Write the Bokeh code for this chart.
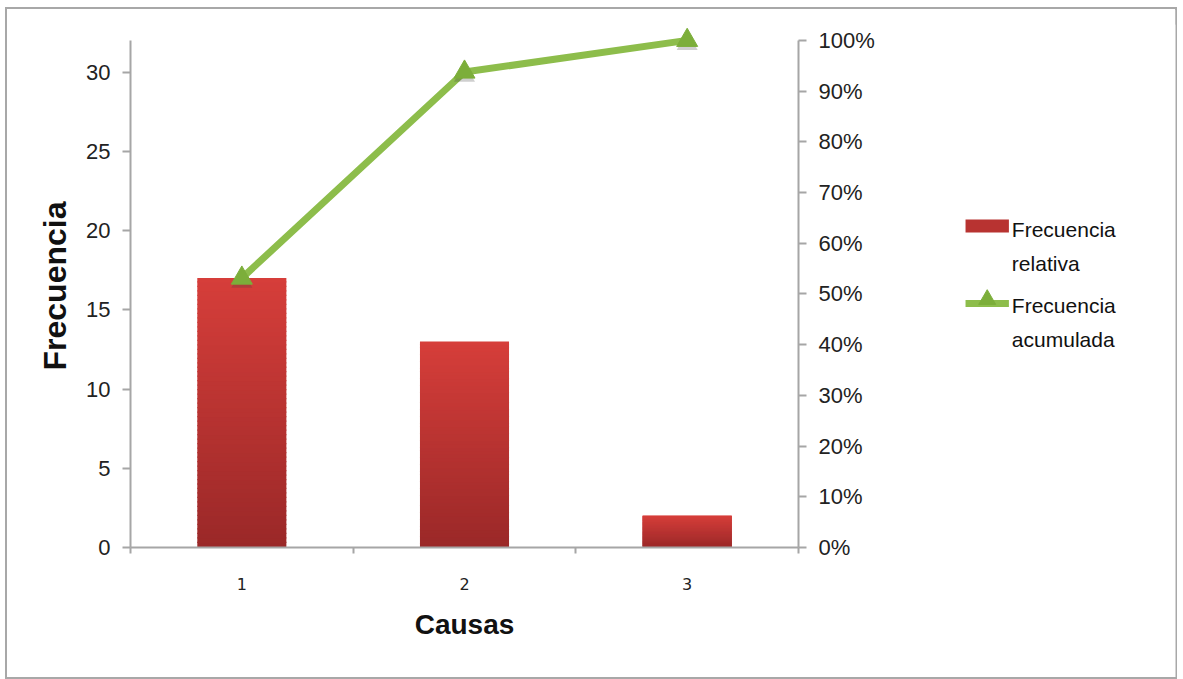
from bokeh.plotting import figure
from bokeh.layouts import row
from bokeh.core.properties import value
from bokeh.models import (Range1d, LinearAxis, FixedTicker, NumeralTickFormatter,
                          ColumnDataSource)
from bokeh.embed import file_html
from bokeh.resources import INLINE

# Data
causas = [1, 2, 3]
frecuencia = [17, 13, 2]
cat_labels = ["1", "2", "3"]
series_names = ["Frecuencia relativa", "Frecuencia acumulada"]

total = sum(frecuencia)
acumulada = []
run = 0
for f in frecuencia:
    run += f
    acumulada.append(run / total)

FONT = "Liberation Sans"
AXIS_COLOR = "#a6a6a6"
BAR_TOP = (214, 62, 58)
BAR_BOT = (154, 40, 40)
LINE_COLOR = "#8dbd4b"
MARK_COLOR = "#7cae3a"
Y_MAX = 32
Y_TOP = 33  # a little headroom so the last marker is not clipped

H = 668
W_MAIN = 891
W_LEG = 281

p = figure(width=W_MAIN, height=H, output_backend="svg", toolbar_location=None,
           x_range=Range1d(0.5, 3.5), y_range=Range1d(0, Y_TOP),
           min_border_left=123, min_border_right=W_MAIN - 791, min_border_top=15,
           min_border_bottom=130)
p.extra_y_ranges = {"pct": Range1d(0, Y_TOP / Y_MAX)}
p.grid.visible = False
p.outline_line_color = None
p.background_fill_color = "white"
p.border_fill_color = "white"


def shade(t):
    rgb = tuple(int(round(b + (a - b) * t)) for a, b in zip(BAR_TOP, BAR_BOT))
    return "#%02x%02x%02x" % rgb


# Bars with a vertical shading, drawn as thin stacked slices of each bar
N = 60
xs, bots, tops, cols = [], [], [], []
for c, v in zip(causas, frecuencia):
    for k in range(N):
        xs.append(c)
        bots.append(v * k / N)
        tops.append(min(v, v * (k + 1) / N + 0.08))
        cols.append(shade((k + 0.5) / N))
src = ColumnDataSource(dict(x=xs, bottom=bots, top=tops, color=cols))
p.vbar(x="x", bottom="bottom", top="top", width=0.4, source=src,
       fill_color="color", line_color=None)

# Cumulative line, with a soft shadow under each marker
p.line(causas, acumulada, y_range_name="pct", line_color=LINE_COLOR,
       line_width=7, line_join="round")
p.scatter(causas, [a - 0.007 for a in acumulada], y_range_name="pct",
          marker="triangle", size=21, fill_color="#404040", fill_alpha=0.25,
          line_color=None)
p.scatter(causas, acumulada, y_range_name="pct", marker="triangle",
          size=21, fill_color=MARK_COLOR, line_color=MARK_COLOR)

# Axes
xa = p.xaxis[0]
xa.ticker = FixedTicker(ticks=causas, minor_ticks=[0.5, 1.5, 2.5, 3.5])
xa.major_label_overrides = {c: l for c, l in zip(causas, cat_labels)}
xa.major_tick_line_color = None
xa.major_tick_out = 0
xa.major_tick_in = 0
xa.minor_tick_out = 6
xa.minor_tick_in = 0
xa.minor_tick_line_color = AXIS_COLOR
xa.minor_tick_line_width = 2
xa.axis_line_color = AXIS_COLOR
xa.axis_line_width = 2
xa.major_label_text_font = "DejaVu Sans"
xa.major_label_text_font_size = "16px"
xa.major_label_text_color = "#222222"
xa.major_label_standoff = 24
xa.axis_label = "Causas"
xa.axis_label_text_font = FONT
xa.axis_label_text_font_style = "bold"
xa.axis_label_text_font_size = "28px"
xa.axis_label_text_color = "#111111"
xa.axis_label_standoff = 16

ya = p.yaxis[0]
ya.bounds = (0, Y_MAX)
ya.ticker = FixedTicker(ticks=[0, 5, 10, 15, 20, 25, 30])
ya.minor_tick_line_color = None
ya.major_tick_out = 8
ya.major_tick_in = 0
ya.major_tick_line_color = AXIS_COLOR
ya.major_tick_line_width = 2
ya.axis_line_color = AXIS_COLOR
ya.axis_line_width = 2
ya.major_label_text_font = FONT
ya.major_label_text_font_size = "22px"
ya.major_label_text_color = "#222222"
ya.major_label_standoff = 12
ya.axis_label = "Frecuencia"
ya.axis_label_text_font = FONT
ya.axis_label_text_font_style = "bold"
ya.axis_label_text_font_size = "32px"
ya.axis_label_text_color = "#111111"
ya.axis_label_standoff = 10

ra = LinearAxis(y_range_name="pct", bounds=(0, 1),
                ticker=FixedTicker(ticks=[i / 10 for i in range(11)]),
                formatter=NumeralTickFormatter(format="0%"))
ra.minor_tick_line_color = None
ra.major_tick_out = 8
ra.major_tick_in = 0
ra.major_tick_line_color = AXIS_COLOR
ra.major_tick_line_width = 2
ra.axis_line_color = AXIS_COLOR
ra.axis_line_width = 2
ra.major_label_text_font = FONT
ra.major_label_text_font_size = "22px"
ra.major_label_text_color = "#222222"
ra.major_label_standoff = 12
p.add_layout(ra, "right")

# Legend panel: a pixel-scaled plot beside the chart (y measured upward)
q = figure(frame_width=W_LEG, frame_height=H, output_backend="svg",
           toolbar_location=None, title=None,
           x_range=Range1d(0, W_LEG), y_range=Range1d(0, H),
           x_axis_type=None, y_axis_type=None,
           min_border_left=0, min_border_right=0, min_border_top=0,
           min_border_bottom=0)
q.grid.visible = False
q.outline_line_color = None
q.background_fill_color = "white"
q.border_fill_color = "white"

sw_left, sw_right = 68, 112
# swatch for the bars
q.quad(left=[sw_left], right=[sw_right], bottom=[460], top=[473],
       fill_color=shade(0.5), line_color=None)
# swatch for the cumulative line
q.line([sw_left, sw_right], [389, 389], line_color=LINE_COLOR, line_width=7)
q.scatter([(sw_left + sw_right) / 2], [393], marker="triangle", size=17,
          fill_color=MARK_COLOR, line_color=MARK_COLOR)

leg_lines = []
for name in series_names:
    first, second = name.split(" ")
    leg_lines += [first, second]
q.text(x=[115] * 4, y=[463, 429, 387, 353], text=leg_lines,
       text_font=value(FONT), text_font_size="21px", text_color="#111111",
       text_baseline="alphabetic", text_align="left")

layout = row(p, q)
layout.styles = {"border": "2px solid #a8a8a8", "margin-left": "5px",
                 "margin-top": "7px", "width": "%dpx" % (W_MAIN + W_LEG)}

open("out.html", "w").write(file_html(layout, INLINE))
